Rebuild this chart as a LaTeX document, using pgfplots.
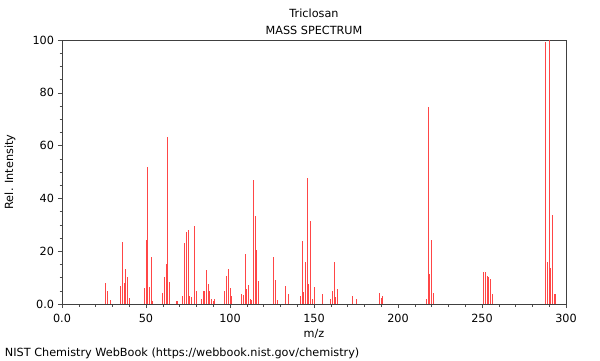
\documentclass[border=0pt]{standalone}
\usepackage{fontspec}
\setmainfont{DejaVu Sans}
\usepackage{pgfplots}
\pgfplotsset{compat=1.18}
\definecolor{spec}{RGB}{255,70,70}
\newcommand{\fs}{\fontsize{11.25pt}{13pt}\selectfont}
\begin{document}
\fs
\begin{tikzpicture}[x=1pt,y=1pt,every node/.style={font=\fs}]
\path[use as bounding box] (0,0) rectangle (600,360);
\begin{axis}[
  at={(62pt,56pt)}, anchor=south west,
  scale only axis, width=504pt, height=264pt,
  xmin=0, xmax=300, ymin=0, ymax=100,
  xtick={0,50,100,150,200,250,300},
  xticklabels={0.0,50,100,150,200,250,300},
  ytick={0,20,40,60,80,100},
  yticklabels={0.0,20,40,60,80,100},
  minor xtick={10,20,30,40,60,70,80,90,110,120,130,140,160,170,180,190,210,220,230,240,260,270,280,290},
  minor ytick={5,10,15,25,30,35,45,50,55,65,70,75,85,90,95},
  tick align=outside, tick pos=left,
  major tick length=4pt, minor tick length=2.5pt,
  every tick/.style={black!70, line width=0.6pt},
  axis line style={black!75, line width=0.8pt},
  /pgf/number format/assume math mode=true,
  tick label style={font=\fs},
  xticklabel style={yshift=-2pt},
  clip=true,
]
\addplot[ycomb, spec, line width=1pt, mark=none] coordinates {
(26,8.0)(27,4.8)(29,1.4)
(35,6.7)(36,23.5)(37,8)(38,13.3)(39,10.2)(40,2.4)
(49,6.2)(50,24.1)(51,52)(52,6.4)(53,17.8)(54,1.1)
(60,4.2)(61,10.2)(62,15)(63,63.1)(64,8.3)
(68,1.1)(69,1.1)
(72,3)(73,23)(74,27.3)(75,28.2)(76,3)(77,2.7)(79,29.5)(80,5)
(83,2)(84,5)(85,5)(86,13)(87,7.7)(88,5)(89,1.9)(90,1)(91,1.9)
(97,5)(98,10.6)(99,13.3)(100,6)(101,3)
(107,3.8)(108,3.4)(109,19)(110,5.7)(111,7.3)(112,1.9)(113,1.5)
(114,47)(115,33.5)(116,20.6)(117,8.7)
(126,17.9)(127,9.2)(128,1.5)
(133,6.8)(135,3.9)
(142,3)(143,23.7)(144,4.6)(145,15.8)(146,47.6)(147,7.7)(148,31.3)(149,1.9)(150,6.4)
(155,3.8)(160,1.9)(161,4.8)(162,15.8)(163,2.7)(164,5.6)
(173,3)(175,1.9)
(189,4.2)(190,2.1)(191,3)
(217,1.8)(218,74.5)(219,11.4)(220,24.1)(221,4)
(251,12)(252,12)(253,10.6)(254,10.1)(255,9.5)(256,3.9)
(288,99.2)(289,16)(290,100)(291,13.6)(292,33.7)(293,3.9)(294,3.9)
};
\end{axis}
\node at (314,347) {Triclosan};
\node at (314,330) {MASS SPECTRUM};
\node at (314,26) {m/z};
\node[rotate=90] at (10,188) {Rel. Intensity};
\node[anchor=west] at (1,7) {NIST Chemistry WebBook (https://webbook.nist.gov/chemistry)};
\end{tikzpicture}
\end{document}
